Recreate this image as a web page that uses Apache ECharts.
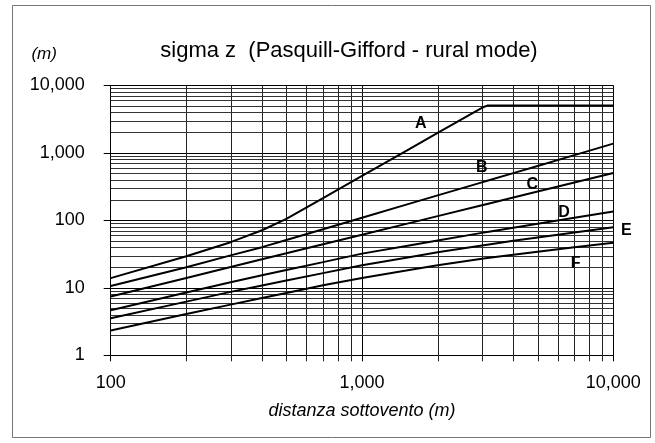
<!DOCTYPE html>
<html>
<head>
<meta charset="utf-8">
<script src="https://cdn.jsdelivr.net/npm/echarts@6/dist/echarts.min.js"></script>
<style>
html,body{margin:0;padding:0;background:#fff;}
#chart{width:655px;height:443px;}
</style>
</head>
<body>
<div id="chart"></div>
<script>
// ---- data ----
const distances = [100, 200, 300, 400, 500, 700, 1000, 1500, 2000, 3000, 3150, 4000, 5000, 7000, 10000];
const sigmaA = [13.9, 29.3, 47.4, 71.2, 104.7, 213, 454, 1071, 1968, 4643, 5000, 5000, 5000, 5000, 5000];
const sigmaB = [10.6, 20.2, 30.2, 40.0, 51.1, 73.9, 109.3, 170.5, 233.8, 364.8, 384.9, 500.2, 638.9, 924.3, 1367];
const sigmaC = [7.44, 14.0, 20.3, 26.5, 32.4, 44.1, 61.1, 88.6, 115.3, 167.0, 174.6, 217.3, 266.5, 362.5, 502.3];
const sigmaD = [4.65, 8.50, 12.1, 15.3, 18.3, 24.0, 32.1, 41.7, 50.2, 65.1, 67.1, 77.5, 88.7, 108.7, 134.9];
const sigmaE = [3.53, 6.24, 8.70, 10.8, 12.8, 16.5, 21.6, 27.9, 33.5, 42.2, 43.4, 49.8, 55.7, 66.0, 79.1];
const sigmaF = [2.33, 4.09, 5.63, 7.05, 8.40, 10.9, 14.0, 18.0, 21.6, 27.0, 27.6, 30.8, 34.2, 40.0, 46.4];
const classNames = ['A', 'B', 'C', 'D', 'E', 'F'];
// label anchor points (data units)
const labelX = [1713, 2995, 4761, 6365, 10000, 7087];
const labelY = [2735, 610, 333, 130.6, 69.4, 23.07];
const xMin = 100, xMax = 10000, yMin = 1, yMax = 10000;
const minorXTicks = [200, 300, 400, 500, 600, 700, 800, 900, 2000, 3000, 4000, 5000, 6000, 7000, 8000, 9000];
const minorYTicks = [2,3,4,5,6,7,8,9,20,30,40,50,60,70,80,90,200,300,400,500,600,700,800,900,2000,3000,4000,5000,6000,7000,8000,9000];
const titleText = 'sigma z  (Pasquill-Gifford - rural mode)';
const xName = 'distanza sottovento (m)';
const yName = '(m)';

const FONT = 'Liberation Sans, Arial, sans-serif';
const fmt = v => Math.round(v).toString().replace(/\B(?=(\d{3})+(?!\d))/g, ',');

const allSeries = [sigmaA, sigmaB, sigmaC, sigmaD, sigmaE, sigmaF];

const minorData = minorXTicks.map(v => [v, yMin, 0]).concat(minorYTicks.map(v => [xMin, v, 1]));

const series = [{
  type: 'custom',
  coordinateSystem: 'cartesian2d',
  clip: false,
  silent: true,
  z: 1,
  encode: {x: 0, y: 1},
  data: minorData,
  renderItem: function (params, api) {
    const kind = api.value(2);
    if (kind === 0) {
      const v = api.value(0);
      const p1 = api.coord([v, yMax]);
      const p2 = api.coord([v, yMin]);
      const x = Math.round(p1[0]) + 0.5;
      return {type: 'line', shape: {x1: x, y1: p1[1], x2: x, y2: p2[1] + 6},
              style: {stroke: '#222', lineWidth: 1}};
    } else {
      const v = api.value(1);
      const p1 = api.coord([xMin, v]);
      const p2 = api.coord([xMax, v]);
      const y = Math.round(p1[1]) + 0.5;
      return {type: 'line', shape: {x1: p1[0], y1: y, x2: p2[0], y2: y},
              style: {stroke: '#333', lineWidth: 1}};
    }
  }
}];

allSeries.forEach((vals, i) => {
  series.push({
    type: 'line',
    name: classNames[i],
    data: distances.map((d, j) => [d, vals[j]]),
    symbol: 'none',
    z: 5,
    lineStyle: {color: '#000', width: 2},
    markPoint: {
      symbol: 'circle',
      symbolSize: 0,
      silent: true,
      data: [{
        coord: [labelX[i], labelY[i]],
        label: {
          show: true,
          position: 'inside',
          formatter: classNames[i],
          offset: i === 4 ? [13, 0] : [0, 0],
          color: '#000',
          fontFamily: FONT,
          fontWeight: 'bold',
          fontSize: 16
        }
      }]
    }
  });
});

const chart = echarts.init(document.getElementById('chart'), null, {renderer: 'canvas'});
chart.setOption({
  animation: false,
  backgroundColor: '#fff',
  title: {
    text: titleText,
    left: 349,
    top: 40,
    padding: 0,
    textAlign: 'center',
    textStyle: {fontFamily: FONT, fontSize: 22, fontWeight: 'normal', color: '#000'}
  },
  graphic: [{
    type: 'rect',
    shape: {x: 12.5, y: 5.5, width: 638, height: 432},
    style: {fill: 'none', stroke: '#777', lineWidth: 1},
    silent: true
  }],
  grid: {left: 110.7, right: 41.7, top: 85.3, bottom: 87.7, containLabel: false},
  xAxis: {
    type: 'log',
    logBase: 10,
    min: xMin,
    max: xMax,
    name: xName,
    nameLocation: 'middle',
    nameGap: 47,
    nameTextStyle: {fontFamily: FONT, fontSize: 18, fontStyle: 'italic', color: '#000'},
    axisLine: {show: true, lineStyle: {color: '#000', width: 1}},
    axisTick: {show: true, length: 6, lineStyle: {color: '#000'}},
    axisLabel: {fontFamily: FONT, fontSize: 18, color: '#000', margin: 19, formatter: fmt},
    splitLine: {show: true, lineStyle: {color: '#000', width: 1}},
    minorTick: {show: false},
    minorSplitLine: {show: false}
  },
  yAxis: {
    type: 'log',
    logBase: 10,
    min: yMin,
    max: yMax,
    name: yName,
    nameLocation: 'end',
    nameGap: 23,
    nameTextStyle: {fontFamily: FONT, fontSize: 17, fontStyle: 'italic', color: '#000', align: 'center', padding: [0, 133, 0, 0]},
    axisLine: {show: true, lineStyle: {color: '#000', width: 1}},
    axisTick: {show: true, length: 7, lineStyle: {color: '#000'}},
    axisLabel: {fontFamily: FONT, fontSize: 18, color: '#000', margin: 26, formatter: fmt},
    splitLine: {show: true, lineStyle: {color: '#000', width: 1}},
    minorTick: {show: false},
    minorSplitLine: {show: false}
  },
  series: series
});
</script>
</body>
</html>
